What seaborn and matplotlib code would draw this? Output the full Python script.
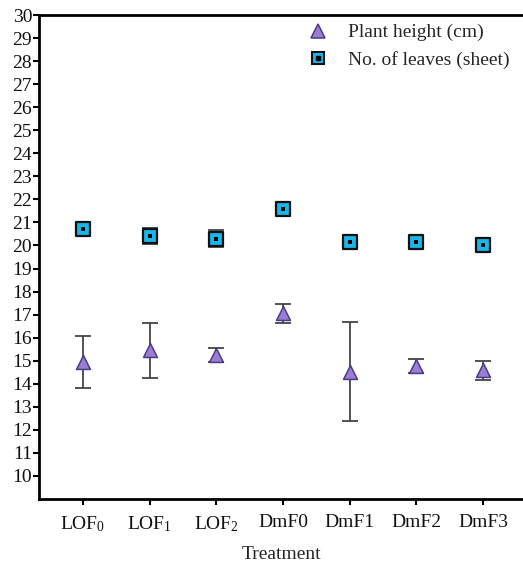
import matplotlib
matplotlib.use("Agg")
import matplotlib.pyplot as plt
import seaborn as sns
import pandas as pd
import numpy as np
from matplotlib.lines import Line2D
from matplotlib.legend_handler import HandlerTuple

treatments = ["LOF$_0$", "LOF$_1$", "LOF$_2$", "DmF0", "DmF1", "DmF2", "DmF3"]
plant_height = [14.96, 15.45, 15.26, 17.05, 14.53, 14.77, 14.58]
plant_height_err = [1.13, 1.2, 0.3, 0.42, 2.14, 0.32, 0.42]
leaves = [20.72, 20.40, 20.30, 21.57, 20.15, 20.17, 20.00]
leaves_err = [0.1, 0.35, 0.35, 0.15, 0.08, 0.08, 0.08]
y_ticks = list(range(10, 31))

sns.set_theme(style="white")
plt.rcParams["font.family"] = ["Liberation Serif", "DejaVu Serif"]
plt.rcParams["mathtext.fontset"] = "custom"
plt.rcParams["mathtext.rm"] = "Liberation Serif"
plt.rcParams["mathtext.it"] = "Liberation Serif:italic"

df = pd.DataFrame({"Treatment": treatments, "height": plant_height, "herr": plant_height_err,
                   "leaves": leaves, "lerr": leaves_err})
df["pos"] = np.arange(len(df))

fig = plt.figure(figsize=(5.23, 5.67), dpi=100)
ax = fig.add_axes([0.0746, 0.12, 0.9254, 0.8535])

err_col = "#444444"
ax.errorbar(df["pos"], df["height"], yerr=df["herr"], fmt="none", ecolor=err_col,
            elinewidth=1.3, capsize=6, capthick=1.3, zorder=2)
ax.errorbar(df["pos"], df["leaves"], yerr=df["lerr"], fmt="none", ecolor=err_col,
            elinewidth=1.3, capsize=6, capthick=1.3, zorder=2)

tri_face = "#9a7fd0"
tri_edge = "#4a3a8c"
sq_face = "#19b6ea"
sns.scatterplot(data=df, x="pos", y="height", marker="^", s=100, color=tri_face,
                edgecolor=tri_edge, linewidth=1.1, ax=ax, zorder=3, legend=False)
sns.scatterplot(data=df, x="pos", y="leaves", marker="s", s=90, color=sq_face,
                edgecolor="#111111", linewidth=1.6, ax=ax, zorder=3, legend=False)
sns.scatterplot(data=df, x="pos", y="leaves", marker="s", s=6, color="black",
                edgecolor="black", linewidth=0, ax=ax, zorder=4, legend=False)

ax.set_xlim(-0.66, 6.6)
ax.set_ylim(9, 30)
ax.set_xticks(df["pos"])
ax.set_xticklabels(treatments)
ax.set_yticks(y_ticks)
ax.set_xlabel("Treatment", fontsize=14, labelpad=9)
ax.set_ylabel("")

for side in ["left", "bottom", "top"]:
    ax.spines[side].set_color("black")
    ax.spines[side].set_linewidth(2)
ax.spines["right"].set_visible(False)
ax.tick_params(axis="both", which="major", direction="out", length=4, width=1.5,
               color="black", labelsize=14, labelcolor="#111111", pad=1,
               left=True, bottom=True)
ax.tick_params(axis="x", pad=7)

h1 = Line2D([], [], marker="^", linestyle="none", markersize=10, markerfacecolor=tri_face,
            markeredgecolor=tri_edge, markeredgewidth=1.1)
h2a = Line2D([], [], marker="s", linestyle="none", markersize=9, markerfacecolor=sq_face,
             markeredgecolor="#111111", markeredgewidth=1.5)
h2b = Line2D([], [], marker="s", linestyle="none", markersize=2.2, markerfacecolor="black",
             markeredgecolor="black")
ax.legend([h1, (h2a, h2b)], ["Plant height (cm)", "No. of leaves (sheet)"],
          handler_map={tuple: HandlerTuple(ndivide=1, pad=0)},
          loc="upper right", bbox_to_anchor=(1.0, 1.01), frameon=False, fontsize=14,
          handletextpad=0.8, labelspacing=0.5, handlelength=1.5, borderaxespad=0.3)

fig.savefig("out.png", dpi=100)
